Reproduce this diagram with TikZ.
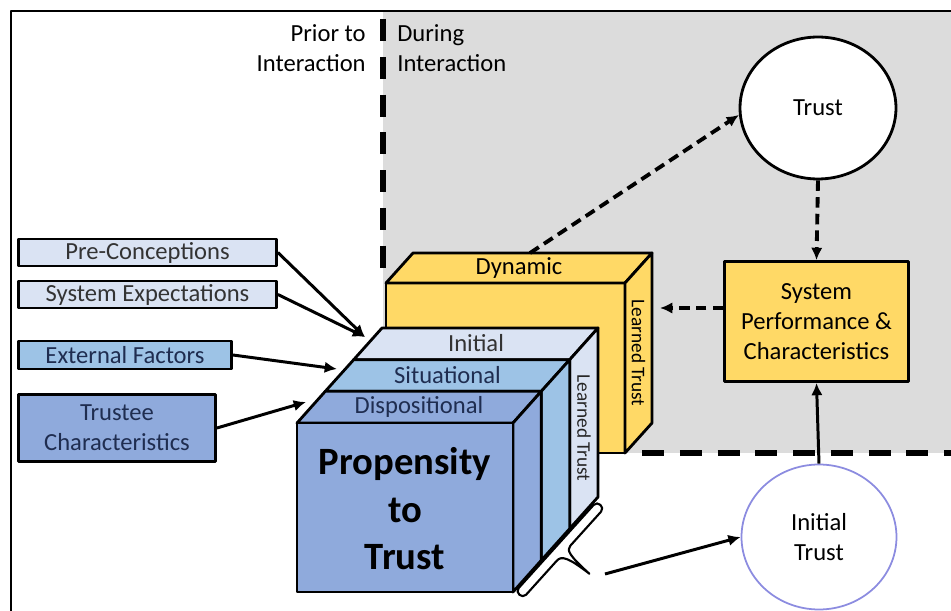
\documentclass[tikz,border=0pt]{standalone}
\usepackage{fontspec}
\setmainfont{Carlito}
\usetikzlibrary{arrows.meta,shapes.geometric}

\definecolor{bggray}{HTML}{DCDCDC}
\definecolor{gold}{HTML}{FFD966}
\definecolor{dispo}{HTML}{8FAADC}
\definecolor{situ}{HTML}{9DC3E6}
\definecolor{initc}{HTML}{DAE3F3}
\definecolor{navy}{HTML}{1F2D50}
\definecolor{initblue}{HTML}{8C8CE0}

\begin{document}
\begin{tikzpicture}[x=0.02cm, y=-0.02cm, line join=round,
	font=\fontsize{14}{17}\selectfont,
	>={Latex[length=7pt,width=6.5pt]},
	box/.style={draw, line width=1.6pt, inner sep=0pt, align=center},
	face/.style={draw, line width=1.6pt},
	arr/.style={->, line width=1.7pt},
	dasharr/.style={->, line width=2.2pt, dash pattern=on 6pt off 3.5pt},
	divide/.style={line width=3pt, dash pattern=on 12.5pt off 9pt},
	side/.style={rotate=-90, font=\fontsize{11}{13}\selectfont}]
	\useasboundingbox (0,0) rectangle (951,611);

	% prior / during interaction
	\fill[bggray] (383,11) rectangle (951,453);
	\draw[line width=1.1pt] (11,611) -- (11,11) -- (951,11);
	\draw[divide] (383,19) -- (383,269);
	\draw[divide] (642,453) -- (951,453);
	\node[anchor=east, align=right, inner sep=0pt] (prior) at (366,48) {Prior to\\Interaction};
	\node[anchor=west, align=left, inner sep=0pt] (during) at (397,48) {During\\Interaction};

	% dynamic box
	\filldraw[face, fill=gold] (386,283) rectangle (625,453);
	\filldraw[face, fill=gold] (386,283) -- (413,253) -- (652,253) -- (625,283) -- cycle;
	\filldraw[face, fill=gold] (625,283) -- (652,253) -- (652,423) -- (625,453) -- cycle;
	\node (dynamic) at (519,268) {Dynamic};
	\node[side] (learned2) at (638.5,353) {Learned Trust};

	% trust cube
	\filldraw[face, fill=initc] (353.7,359.7) -- (569.7,359.7) -- (598,328) -- (382,328) -- cycle;
	\filldraw[face, fill=situ] (325.3,391.3) -- (541.3,391.3) -- (569.7,359.7) -- (353.7,359.7) -- cycle;
	\filldraw[face, fill=dispo] (297,423) -- (513,423) -- (541.3,391.3) -- (325.3,391.3) -- cycle;
	\filldraw[face, fill=initc] (569.7,359.7) -- (598,328) -- (598,497) -- (569.7,528.7) -- cycle;
	\filldraw[face, fill=situ] (541.3,391.3) -- (569.7,359.7) -- (569.7,528.7) -- (541.3,560.3) -- cycle;
	\filldraw[face, fill=dispo] (513,423) -- (541.3,391.3) -- (541.3,560.3) -- (513,592) -- cycle;
	\filldraw[face, fill=dispo] (297,423) rectangle (513,592);
	\node[text=black!80] (initial) at (476,343) {Initial};
	\node[text=navy] (situational) at (447.5,375) {Situational};
	\node[text=navy] (dispositional) at (419,407) {Dispositional};
	\node[side, text=black!85] (learned1) at (584,428) {Learned Trust};
	\node[align=center, font=\fontsize{22}{27}\selectfont\bfseries] (propensity) at (405,509)
		{Propensity\\to\\Trust};

	% brace under the cube
	\begin{scope}[shift={(516,591)}, x={(0.0134cm,0.01484cm)}, y={(0.01484cm,-0.0134cm)}]
		\filldraw[fill=white, line width=1.2pt]
			(4,0) -- (116,0) .. controls (122,0) and (122,10) .. (116,10) -- (70,10)
			.. controls (64,10) and (62,16) .. (62,43)
			.. controls (60,17) and (57,10) .. (50,10) -- (4,10)
			.. controls (-2,10) and (-2,0) .. (4,0) -- cycle;
	\end{scope}

	% factors
	\node[box, fill=initc, text=black!80, minimum width=5.16cm, minimum height=0.54cm] (pre) at (147.5,252.5) {Pre-Conceptions};
	\node[box, fill=initc, text=black!80, minimum width=5.16cm, minimum height=0.54cm] (sysexp) at (147.5,294.5) {System Expectations};
	\node[box, fill=situ, text=navy, minimum width=4.26cm, minimum height=0.56cm] (ext) at (125,355) {External Factors};
	\node[box, fill=dispo, text=navy, minimum width=3.94cm, minimum height=1.34cm] (trustee) at (117,428) {Trustee\\Characteristics};
	\coordinate (hitA) at (365,337);
	\coordinate (hitB) at (337,369);
	\coordinate (hitC) at (306,402);
	\draw[arr] (pre.east) -- (hitA);
	\draw[arr] (sysexp.east) -- (hitA);
	\draw[arr] (ext.east) -- (hitB);
	\draw[arr] (trustee.east) -- (hitC);

	% during interaction
	\node[ellipse, draw, fill=white, line width=1.6pt, minimum width=3.12cm, minimum height=2.84cm] (trust) at (818,108) {Trust};
	\node[box, fill=gold, minimum width=3.68cm, minimum height=2.4cm] (perf) at (816.5,321.5) {System\\Performance \&\\Characteristics};
	\node[ellipse, draw=initblue, fill=white, line width=1pt, align=center, minimum width=3.1cm, minimum height=2.9cm] (inittrust) at (819,537) {Initial\\Trust};
	\coordinate (dyntop) at (530,253);
	\coordinate (dynside) at (660,308);
	\coordinate (bracetip) at (605,574);
	\draw[dasharr] (dyntop) -- (trust.185);
	\draw[dasharr] (trust.south) -- (perf.north);
	\draw[dasharr] (perf.west |- dynside) -- (dynside);
	\draw[arr] (inittrust.north) -- (perf.south);
	\draw[arr] (bracetip) -- (inittrust.west);
\end{tikzpicture}
\end{document}
